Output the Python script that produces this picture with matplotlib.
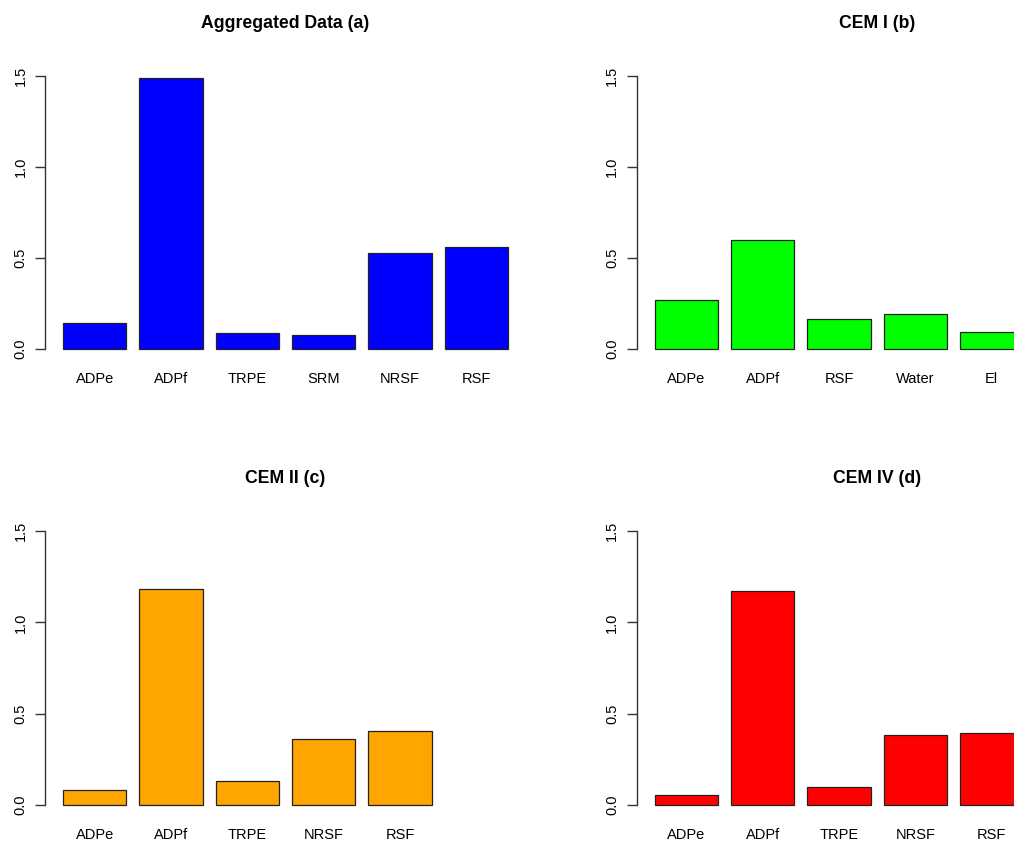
import matplotlib
matplotlib.use("Agg")
from matplotlib import pyplot as plt

plt.rcParams['font.family'] = ['Liberation Sans', 'DejaVu Sans']

# bar heights for each panel
agg_labels = ['ADPe', 'ADPf', 'TRPE', 'SRM', 'NRSF', 'RSF']
agg_values = [0.140, 1.485, 0.086, 0.075, 0.527, 0.558]

cem1_labels = ['ADPe', 'ADPf', 'RSF', 'Water', 'El']
cem1_values = [0.268, 0.598, 0.163, 0.190, 0.095]

cem2_labels = ['ADPe', 'ADPf', 'TRPE', 'NRSF', 'RSF']
cem2_values = [0.080, 1.181, 0.131, 0.363, 0.407]

cem4_labels = ['ADPe', 'ADPf', 'TRPE', 'NRSF', 'RSF']
cem4_values = [0.056, 1.171, 0.099, 0.385, 0.392]

W, H = 1014, 842
fig = plt.figure(figsize=(W / 100, H / 100), dpi=100)


def px_axes(left, top, width, height):
    # place an axes using pixel coordinates measured from the top-left corner
    return fig.add_axes([left / W, 1 - (top + height) / H, width / W, height / H])


def barplot(ax, labels, values, color, title):
    # R-style barplot: unit-wide bars separated by 0.2
    xs = [0.7 + 1.2 * i for i in range(len(values))]
    ax.bar(xs, values, width=1.0, color=color, edgecolor='#222222', linewidth=0.9)
    ax.set_xlim(-0.08, 7.48)
    ax.set_ylim(-0.06, 1.56)
    for s in ['top', 'right', 'bottom']:
        ax.spines[s].set_visible(False)
    ax.spines['left'].set_bounds(0, 1.5)
    ax.spines['left'].set_color('#333333')
    ax.spines['left'].set_linewidth(1.0)
    ax.set_yticks([0.0, 0.5, 1.0, 1.5])
    ax.set_yticklabels(['0.0', '0.5', '1.0', '1.5'], rotation=90, va='center', fontsize=10.5)
    ax.tick_params(axis='y', length=7, width=1.0, color='#333333', pad=5.5)
    ax.set_xticks(xs)
    ax.set_xticklabels(labels, fontsize=10.5)
    ax.tick_params(axis='x', length=0, pad=8.5)
    ax.set_title(title, fontsize=12.7, fontweight='bold', pad=26.5)


ax_a = px_axes(45, 64.6, 481, 295.3)
barplot(ax_a, agg_labels, agg_values, '#0000FF', 'Aggregated Data (a)')

ax_b = px_axes(636.7, 64.6, 481, 295.3)
barplot(ax_b, cem1_labels, cem1_values, '#00FF00', 'CEM I (b)')

ax_c = px_axes(45, 520.1, 481, 295.8)
barplot(ax_c, cem2_labels, cem2_values, '#FFA500', 'CEM II (c)')

ax_d = px_axes(636.7, 520.1, 481, 295.8)
barplot(ax_d, cem4_labels, cem4_values, '#FF0000', 'CEM IV (d)')

fig.savefig('out.png', dpi=100)
